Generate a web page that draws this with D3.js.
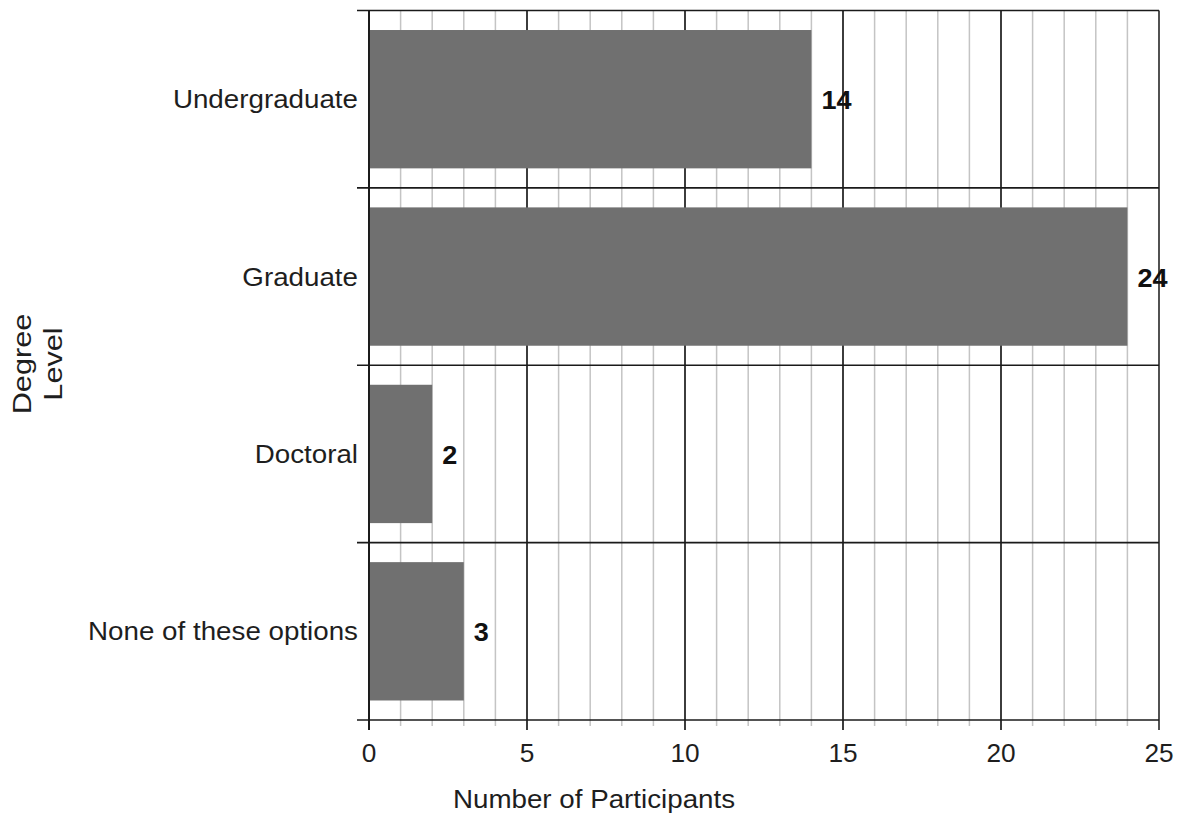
<!DOCTYPE html>
<html>
<head>
<meta charset="utf-8">
<script src="https://cdn.jsdelivr.net/npm/d3@7"></script>
<style>
  body { margin: 0; background: #fff; }
  text { font-family: "Liberation Sans", Arial, sans-serif; fill: #1e1e1e; }
</style>
</head>
<body>
<div id="chart"></div>
<script>
// degree level chart

const categories = ["Undergraduate", "Graduate", "Doctoral", "None of these options"];
const participants = [14, 24, 2, 3];
const tickValues = [0, 5, 10, 15, 20, 25];

const width = 1181;
const height = 819;
const stretch = 1.11; // text in the source is a bit wide

const svg = d3.select("#chart")
  .append("svg")
  .attr("width", width)
  .attr("height", height);

const plotLeft = 369, plotRight = 1159, plotTop = 10.5, plotBottom = 720;

const x = d3.scaleLinear()
  .domain([0, 25])
  .range([plotLeft, plotRight]);

const y = d3.scaleBand()
  .domain(categories)
  .range([plotTop, plotBottom])
  .paddingInner(0.22)
  .paddingOuter(0.11);

const step = y.step();

// minor grid (every 1)
svg.selectAll(".minor")
  .data(d3.range(1, 25).filter(v => v % 5 !== 0))
  .enter()
  .append("line")
  .attr("class", "minor")
  .attr("x1", d => x(d)).attr("x2", d => x(d))
  .attr("y1", plotTop).attr("y2", plotBottom + 6)
  .attr("stroke", "#c4c4c4")
  .attr("stroke-width", 1.5);

// major grid
svg.selectAll(".major")
  .data(tickValues)
  .enter()
  .append("line")
  .attr("class", "major")
  .attr("x1", d => x(d)).attr("x2", d => x(d))
  .attr("y1", plotTop).attr("y2", plotBottom + 10)
  .attr("stroke", d => d === 25 ? "#333" : "#1a1a1a")
  .attr("stroke-width", 1.7);

// bars
svg.selectAll(".bar")
  .data(categories)
  .enter()
  .append("rect")
  .attr("class", "bar")
  .attr("x", x(0))
  .attr("y", d => y(d))
  .attr("width", (d, i) => x(participants[i]) - x(0))
  .attr("height", y.bandwidth())
  .attr("fill", "#707070");

// category separators with left ticks
svg.selectAll(".sep")
  .data(d3.range(categories.length + 1))
  .enter()
  .append("line")
  .attr("class", "sep")
  .attr("x1", plotLeft - 12).attr("x2", plotRight)
  .attr("y1", i => plotTop + i * step).attr("y2", i => plotTop + i * step)
  .attr("stroke", "#1a1a1a")
  .attr("stroke-width", 1.7);

// y axis line
svg.append("line")
  .attr("x1", plotLeft).attr("x2", plotLeft)
  .attr("y1", plotTop).attr("y2", plotBottom + 10)
  .attr("stroke", "#1a1a1a")
  .attr("stroke-width", 1.9);

// category labels
svg.selectAll(".cat")
  .data(categories)
  .enter()
  .append("text")
  .attr("class", "cat")
  .attr("transform", d => `translate(${plotLeft - 11},${y(d) + y.bandwidth() / 2 + 9}) scale(${stretch},1)`)
  .attr("text-anchor", "end")
  .attr("font-size", "25px")
  .text(d => d);

// value labels
svg.selectAll(".val")
  .data(categories)
  .enter()
  .append("text")
  .attr("class", "val")
  .attr("transform", (d, i) => `translate(${x(participants[i]) + 10},${y(d) + y.bandwidth() / 2 + 10}) scale(1.04,1)`)
  .attr("font-size", "26px")
  .attr("font-weight", "bold")
  .style("fill", "#111")
  .text((d, i) => participants[i]);

// x tick labels
svg.selectAll(".tick-label")
  .data(tickValues)
  .enter()
  .append("text")
  .attr("class", "tick-label")
  .attr("transform", d => `translate(${x(d)},762) scale(1.05,1)`)
  .attr("text-anchor", "middle")
  .attr("font-size", "25px")
  .text(d => d);

// axis titles
svg.append("text")
  .attr("transform", `translate(594,808) scale(${stretch},1)`)
  .attr("text-anchor", "middle")
  .attr("font-size", "25px")
  .text("Number of Participants");

const yTitle = svg.append("text")
  .attr("transform", "translate(31,364) rotate(-90) scale(1.18,1)")
  .attr("text-anchor", "middle")
  .attr("font-size", "26px");
yTitle.append("tspan").attr("x", 0).attr("dy", 0).text("Degree");
yTitle.append("tspan").attr("x", 0).attr("dy", 31).text("Level");
</script>
</body>
</html>
